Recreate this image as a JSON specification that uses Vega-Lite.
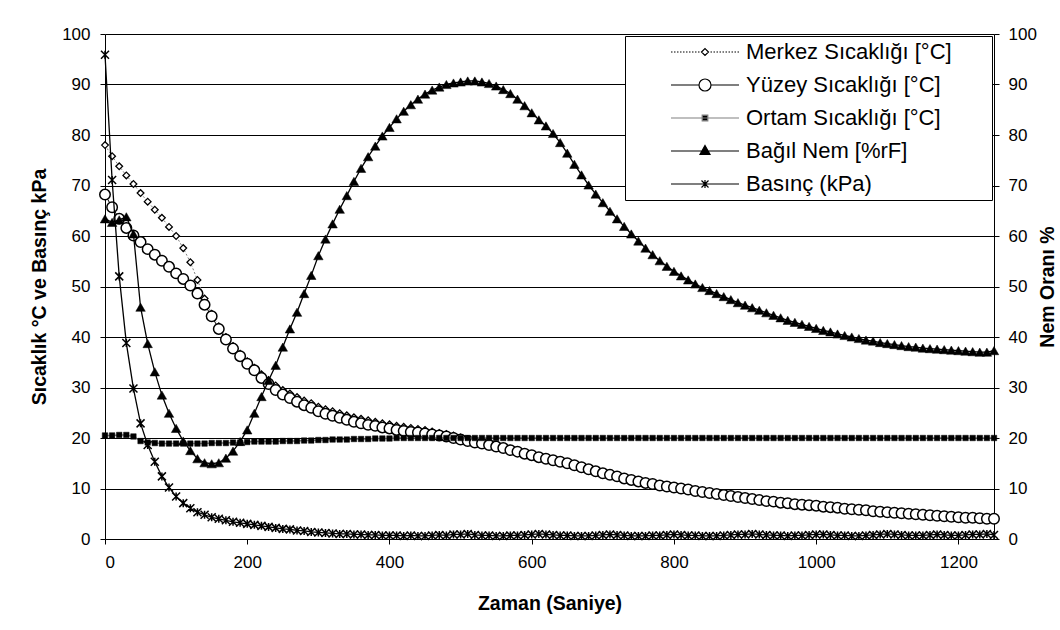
{
  "$schema": "https://vega.github.io/schema/vega-lite/v6.json",
  "width": 889,
  "height": 505,
  "autosize": {"type": "none"},
  "padding": {"left": 105, "top": 34, "right": 66, "bottom": 91},
  "background": "white",
  "config": {
    "font": "Liberation Sans",
    "view": {"stroke": null},
    "axis": {"labelFont": "Liberation Sans", "labelFontSize": 17, "labelColor": "black", "titleFont": "Liberation Sans", "titleFontSize": 19.5, "titleFontWeight": "bold", "titleColor": "black", "domainColor": "black", "domainWidth": 1, "tickColor": "black", "tickWidth": 1, "tickSize": 5, "gridColor": "black", "gridWidth": 1, "gridOpacity": 1},
    "legend": {"orient": "top-right", "offset": 2, "padding": 5, "strokeColor": "black", "fillColor": "white", "labelFont": "Liberation Sans", "labelFontSize": 22, "labelColor": "black", "symbolSize": 400, "symbolStrokeWidth": 1.2, "labelOffset": 30, "rowPadding": 11, "symbolOffset": 64, "labelLimit": 400, "titleOrient": "right", "titlePadding": 35, "titleFontSize": 22}
  },
  "datasets": {
    "merkez": [{"t":0,"v":78.0},{"t":10,"v":75.8},{"t":20,"v":73.8},{"t":30,"v":72.0},{"t":40,"v":70.3},{"t":50,"v":68.5},{"t":60,"v":66.8},{"t":70,"v":65.2},{"t":80,"v":63.6},{"t":90,"v":61.8},{"t":100,"v":60.0},{"t":110,"v":57.6},{"t":120,"v":54.8},{"t":130,"v":51.3},{"t":140,"v":47.6},{"t":150,"v":44.6},{"t":160,"v":42.1},{"t":170,"v":40.0},{"t":180,"v":38.2},{"t":190,"v":36.7},{"t":200,"v":35.2},{"t":210,"v":33.9},{"t":220,"v":32.6},{"t":230,"v":31.5},{"t":240,"v":30.4},{"t":250,"v":29.5},{"t":260,"v":28.8},{"t":270,"v":28.1},{"t":280,"v":27.4},{"t":290,"v":26.9},{"t":300,"v":26.2},{"t":310,"v":25.7},{"t":320,"v":25.3},{"t":330,"v":24.9},{"t":340,"v":24.5},{"t":350,"v":24.1},{"t":360,"v":23.8},{"t":370,"v":23.5},{"t":380,"v":23.2},{"t":390,"v":22.9},{"t":400,"v":22.7},{"t":410,"v":22.4},{"t":420,"v":22.2},{"t":430,"v":22.0},{"t":440,"v":21.8},{"t":450,"v":21.6},{"t":460,"v":21.3},{"t":470,"v":21.0},{"t":480,"v":20.8},{"t":490,"v":20.5},{"t":500,"v":20.1},{"t":510,"v":19.7},{"t":520,"v":19.3},{"t":530,"v":19.1},{"t":540,"v":18.8},{"t":550,"v":18.5},{"t":560,"v":18.2},{"t":570,"v":17.8},{"t":580,"v":17.5},{"t":590,"v":17.1},{"t":600,"v":16.8},{"t":610,"v":16.4},{"t":620,"v":16.1},{"t":630,"v":15.8},{"t":640,"v":15.5},{"t":650,"v":15.2},{"t":660,"v":14.8},{"t":670,"v":14.4},{"t":680,"v":14.0},{"t":690,"v":13.6},{"t":700,"v":13.2},{"t":710,"v":12.9},{"t":720,"v":12.6},{"t":730,"v":12.2},{"t":740,"v":11.9},{"t":750,"v":11.6},{"t":760,"v":11.3},{"t":770,"v":11.1},{"t":780,"v":10.8},{"t":790,"v":10.6},{"t":800,"v":10.4},{"t":810,"v":10.2},{"t":820,"v":10.0},{"t":830,"v":9.7},{"t":840,"v":9.5},{"t":850,"v":9.3},{"t":860,"v":9.1},{"t":870,"v":8.9},{"t":880,"v":8.7},{"t":890,"v":8.5},{"t":900,"v":8.3},{"t":910,"v":8.1},{"t":920,"v":7.9},{"t":930,"v":7.7},{"t":940,"v":7.6},{"t":950,"v":7.4},{"t":960,"v":7.3},{"t":970,"v":7.1},{"t":980,"v":7.0},{"t":990,"v":6.9},{"t":1000,"v":6.8},{"t":1010,"v":6.6},{"t":1020,"v":6.5},{"t":1030,"v":6.4},{"t":1040,"v":6.2},{"t":1050,"v":6.1},{"t":1060,"v":6.0},{"t":1070,"v":5.9},{"t":1080,"v":5.7},{"t":1090,"v":5.6},{"t":1100,"v":5.5},{"t":1110,"v":5.4},{"t":1120,"v":5.3},{"t":1130,"v":5.2},{"t":1140,"v":5.1},{"t":1150,"v":5.0},{"t":1160,"v":4.9},{"t":1170,"v":4.8},{"t":1180,"v":4.7},{"t":1190,"v":4.6},{"t":1200,"v":4.5},{"t":1210,"v":4.4},{"t":1220,"v":4.4},{"t":1230,"v":4.3},{"t":1240,"v":4.2},{"t":1250,"v":4.2}],
    "yuzey": [{"t":0,"v":68.2},{"t":10,"v":65.7},{"t":20,"v":63.4},{"t":30,"v":61.6},{"t":40,"v":60.1},{"t":50,"v":58.8},{"t":60,"v":57.4},{"t":70,"v":56.3},{"t":80,"v":55.1},{"t":90,"v":53.9},{"t":100,"v":52.6},{"t":110,"v":51.5},{"t":120,"v":50.2},{"t":130,"v":48.6},{"t":140,"v":46.4},{"t":150,"v":44.1},{"t":160,"v":41.6},{"t":170,"v":39.5},{"t":180,"v":37.7},{"t":190,"v":36.2},{"t":200,"v":34.7},{"t":210,"v":33.4},{"t":220,"v":31.9},{"t":230,"v":30.7},{"t":240,"v":29.5},{"t":250,"v":28.6},{"t":260,"v":27.9},{"t":270,"v":27.2},{"t":280,"v":26.5},{"t":290,"v":26.0},{"t":300,"v":25.3},{"t":310,"v":24.8},{"t":320,"v":24.4},{"t":330,"v":24.0},{"t":340,"v":23.6},{"t":350,"v":23.2},{"t":360,"v":22.9},{"t":370,"v":22.6},{"t":380,"v":22.4},{"t":390,"v":22.1},{"t":400,"v":21.9},{"t":410,"v":21.6},{"t":420,"v":21.4},{"t":430,"v":21.2},{"t":440,"v":21.1},{"t":450,"v":20.9},{"t":460,"v":20.7},{"t":470,"v":20.5},{"t":480,"v":20.3},{"t":490,"v":20.0},{"t":500,"v":19.7},{"t":510,"v":19.4},{"t":520,"v":19.1},{"t":530,"v":18.9},{"t":540,"v":18.6},{"t":550,"v":18.3},{"t":560,"v":18.0},{"t":570,"v":17.6},{"t":580,"v":17.3},{"t":590,"v":16.9},{"t":600,"v":16.6},{"t":610,"v":16.2},{"t":620,"v":15.9},{"t":630,"v":15.6},{"t":640,"v":15.3},{"t":650,"v":15.0},{"t":660,"v":14.6},{"t":670,"v":14.2},{"t":680,"v":13.8},{"t":690,"v":13.4},{"t":700,"v":13.0},{"t":710,"v":12.7},{"t":720,"v":12.4},{"t":730,"v":12.0},{"t":740,"v":11.7},{"t":750,"v":11.4},{"t":760,"v":11.1},{"t":770,"v":10.9},{"t":780,"v":10.6},{"t":790,"v":10.4},{"t":800,"v":10.2},{"t":810,"v":10.0},{"t":820,"v":9.8},{"t":830,"v":9.5},{"t":840,"v":9.3},{"t":850,"v":9.1},{"t":860,"v":8.9},{"t":870,"v":8.7},{"t":880,"v":8.5},{"t":890,"v":8.3},{"t":900,"v":8.1},{"t":910,"v":7.9},{"t":920,"v":7.7},{"t":930,"v":7.5},{"t":940,"v":7.4},{"t":950,"v":7.2},{"t":960,"v":7.1},{"t":970,"v":6.9},{"t":980,"v":6.8},{"t":990,"v":6.7},{"t":1000,"v":6.6},{"t":1010,"v":6.4},{"t":1020,"v":6.3},{"t":1030,"v":6.2},{"t":1040,"v":6.0},{"t":1050,"v":5.9},{"t":1060,"v":5.8},{"t":1070,"v":5.7},{"t":1080,"v":5.5},{"t":1090,"v":5.4},{"t":1100,"v":5.3},{"t":1110,"v":5.2},{"t":1120,"v":5.1},{"t":1130,"v":5.0},{"t":1140,"v":4.9},{"t":1150,"v":4.8},{"t":1160,"v":4.7},{"t":1170,"v":4.6},{"t":1180,"v":4.5},{"t":1190,"v":4.4},{"t":1200,"v":4.3},{"t":1210,"v":4.2},{"t":1220,"v":4.2},{"t":1230,"v":4.1},{"t":1240,"v":4.0},{"t":1250,"v":4.0}],
    "ortam": [{"t":0,"v":20.5},{"t":10,"v":20.5},{"t":20,"v":20.6},{"t":30,"v":20.6},{"t":40,"v":20.3},{"t":50,"v":19.4},{"t":60,"v":19.1},{"t":70,"v":19.0},{"t":80,"v":18.9},{"t":90,"v":18.9},{"t":100,"v":18.9},{"t":110,"v":18.9},{"t":120,"v":18.9},{"t":130,"v":18.9},{"t":140,"v":18.9},{"t":150,"v":19.0},{"t":160,"v":19.0},{"t":170,"v":19.0},{"t":180,"v":19.1},{"t":190,"v":19.1},{"t":200,"v":19.2},{"t":210,"v":19.3},{"t":220,"v":19.3},{"t":230,"v":19.3},{"t":240,"v":19.3},{"t":250,"v":19.4},{"t":260,"v":19.4},{"t":270,"v":19.4},{"t":280,"v":19.5},{"t":290,"v":19.5},{"t":300,"v":19.6},{"t":310,"v":19.6},{"t":320,"v":19.7},{"t":330,"v":19.7},{"t":340,"v":19.7},{"t":350,"v":19.8},{"t":360,"v":19.8},{"t":370,"v":19.8},{"t":380,"v":19.9},{"t":390,"v":19.9},{"t":400,"v":19.9},{"t":410,"v":20.0},{"t":420,"v":20.0},{"t":430,"v":20.0},{"t":440,"v":20.0},{"t":450,"v":20.0},{"t":460,"v":20.0},{"t":470,"v":20.0},{"t":480,"v":20.0},{"t":490,"v":20.0},{"t":500,"v":20.0},{"t":510,"v":20.0},{"t":520,"v":20.0},{"t":530,"v":20.0},{"t":540,"v":20.0},{"t":550,"v":20.0},{"t":560,"v":20.0},{"t":570,"v":20.0},{"t":580,"v":20.0},{"t":590,"v":20.0},{"t":600,"v":20.0},{"t":610,"v":20.0},{"t":620,"v":20.0},{"t":630,"v":20.0},{"t":640,"v":20.0},{"t":650,"v":20.0},{"t":660,"v":20.0},{"t":670,"v":20.0},{"t":680,"v":20.0},{"t":690,"v":20.0},{"t":700,"v":20.0},{"t":710,"v":20.0},{"t":720,"v":20.0},{"t":730,"v":20.0},{"t":740,"v":20.0},{"t":750,"v":20.0},{"t":760,"v":20.0},{"t":770,"v":20.0},{"t":780,"v":20.0},{"t":790,"v":20.0},{"t":800,"v":20.0},{"t":810,"v":20.0},{"t":820,"v":20.0},{"t":830,"v":20.0},{"t":840,"v":20.0},{"t":850,"v":20.0},{"t":860,"v":20.0},{"t":870,"v":20.0},{"t":880,"v":20.0},{"t":890,"v":20.0},{"t":900,"v":20.0},{"t":910,"v":20.0},{"t":920,"v":20.0},{"t":930,"v":20.0},{"t":940,"v":20.0},{"t":950,"v":20.0},{"t":960,"v":20.0},{"t":970,"v":20.0},{"t":980,"v":20.0},{"t":990,"v":20.0},{"t":1000,"v":20.0},{"t":1010,"v":20.0},{"t":1020,"v":20.0},{"t":1030,"v":20.0},{"t":1040,"v":20.0},{"t":1050,"v":20.0},{"t":1060,"v":20.0},{"t":1070,"v":20.0},{"t":1080,"v":20.0},{"t":1090,"v":20.0},{"t":1100,"v":20.0},{"t":1110,"v":20.0},{"t":1120,"v":20.0},{"t":1130,"v":20.0},{"t":1140,"v":20.0},{"t":1150,"v":20.0},{"t":1160,"v":20.0},{"t":1170,"v":20.0},{"t":1180,"v":20.0},{"t":1190,"v":20.0},{"t":1200,"v":20.0},{"t":1210,"v":20.0},{"t":1220,"v":20.0},{"t":1230,"v":20.0},{"t":1240,"v":20.0},{"t":1250,"v":20.0}],
    "nem": [{"t":0,"v":63.4},{"t":10,"v":62.7},{"t":20,"v":63.2},{"t":30,"v":63.8},{"t":40,"v":60.4},{"t":50,"v":45.9},{"t":60,"v":38.7},{"t":70,"v":33.1},{"t":80,"v":28.5},{"t":90,"v":24.9},{"t":100,"v":21.9},{"t":110,"v":19.4},{"t":120,"v":17.5},{"t":130,"v":15.9},{"t":140,"v":15.1},{"t":150,"v":14.9},{"t":160,"v":15.1},{"t":170,"v":16.0},{"t":180,"v":17.4},{"t":190,"v":19.3},{"t":200,"v":21.6},{"t":210,"v":24.9},{"t":220,"v":28.2},{"t":230,"v":31.4},{"t":240,"v":34.4},{"t":250,"v":38.0},{"t":260,"v":41.6},{"t":270,"v":44.9},{"t":280,"v":48.6},{"t":290,"v":52.2},{"t":300,"v":56.1},{"t":310,"v":59.4},{"t":320,"v":62.4},{"t":330,"v":65.3},{"t":340,"v":68.0},{"t":350,"v":70.8},{"t":360,"v":73.4},{"t":370,"v":75.7},{"t":380,"v":77.8},{"t":390,"v":79.8},{"t":400,"v":81.5},{"t":410,"v":83.2},{"t":420,"v":84.7},{"t":430,"v":86.0},{"t":440,"v":87.1},{"t":450,"v":88.1},{"t":460,"v":88.9},{"t":470,"v":89.5},{"t":480,"v":90.0},{"t":490,"v":90.3},{"t":500,"v":90.5},{"t":510,"v":90.7},{"t":520,"v":90.7},{"t":530,"v":90.5},{"t":540,"v":90.2},{"t":550,"v":89.7},{"t":560,"v":89.0},{"t":570,"v":88.2},{"t":580,"v":87.1},{"t":590,"v":85.8},{"t":600,"v":84.4},{"t":610,"v":83.0},{"t":620,"v":81.8},{"t":630,"v":80.3},{"t":640,"v":78.5},{"t":650,"v":76.4},{"t":660,"v":74.2},{"t":670,"v":72.1},{"t":680,"v":70.1},{"t":690,"v":68.3},{"t":700,"v":66.6},{"t":710,"v":64.9},{"t":720,"v":63.4},{"t":730,"v":61.9},{"t":740,"v":60.4},{"t":750,"v":59.0},{"t":760,"v":57.6},{"t":770,"v":56.3},{"t":780,"v":55.1},{"t":790,"v":54.0},{"t":800,"v":53.0},{"t":810,"v":52.1},{"t":820,"v":51.3},{"t":830,"v":50.5},{"t":840,"v":49.8},{"t":850,"v":49.2},{"t":860,"v":48.6},{"t":870,"v":48.0},{"t":880,"v":47.4},{"t":890,"v":46.8},{"t":900,"v":46.3},{"t":910,"v":45.8},{"t":920,"v":45.3},{"t":930,"v":44.8},{"t":940,"v":44.3},{"t":950,"v":43.8},{"t":960,"v":43.3},{"t":970,"v":42.9},{"t":980,"v":42.5},{"t":990,"v":42.1},{"t":1000,"v":41.7},{"t":1010,"v":41.3},{"t":1020,"v":41.0},{"t":1030,"v":40.6},{"t":1040,"v":40.3},{"t":1050,"v":40.0},{"t":1060,"v":39.7},{"t":1070,"v":39.4},{"t":1080,"v":39.2},{"t":1090,"v":38.9},{"t":1100,"v":38.7},{"t":1110,"v":38.5},{"t":1120,"v":38.3},{"t":1130,"v":38.1},{"t":1140,"v":38.0},{"t":1150,"v":37.8},{"t":1160,"v":37.7},{"t":1170,"v":37.6},{"t":1180,"v":37.5},{"t":1190,"v":37.4},{"t":1200,"v":37.3},{"t":1210,"v":37.2},{"t":1220,"v":37.1},{"t":1230,"v":37.0},{"t":1240,"v":37.0},{"t":1250,"v":37.3}],
    "basinc": [{"t":0,"v":95.9},{"t":10,"v":71.1},{"t":20,"v":52.0},{"t":30,"v":38.8},{"t":40,"v":29.8},{"t":50,"v":22.9},{"t":60,"v":18.6},{"t":70,"v":15.3},{"t":80,"v":12.4},{"t":90,"v":10.2},{"t":100,"v":8.4},{"t":110,"v":7.1},{"t":120,"v":6.1},{"t":130,"v":5.3},{"t":140,"v":4.8},{"t":150,"v":4.3},{"t":160,"v":4.0},{"t":170,"v":3.7},{"t":180,"v":3.4},{"t":190,"v":3.2},{"t":200,"v":3.0},{"t":210,"v":2.8},{"t":220,"v":2.6},{"t":230,"v":2.4},{"t":240,"v":2.2},{"t":250,"v":2.0},{"t":260,"v":1.9},{"t":270,"v":1.7},{"t":280,"v":1.6},{"t":290,"v":1.4},{"t":300,"v":1.3},{"t":310,"v":1.2},{"t":320,"v":1.1},{"t":330,"v":1.0},{"t":340,"v":1.0},{"t":350,"v":0.9},{"t":360,"v":0.9},{"t":370,"v":0.8},{"t":380,"v":0.8},{"t":390,"v":0.7},{"t":400,"v":0.7},{"t":410,"v":0.7},{"t":420,"v":0.6},{"t":430,"v":0.7},{"t":440,"v":0.6},{"t":450,"v":0.6},{"t":460,"v":0.7},{"t":470,"v":0.8},{"t":480,"v":0.7},{"t":490,"v":0.9},{"t":500,"v":0.9},{"t":510,"v":1.0},{"t":520,"v":0.8},{"t":530,"v":0.7},{"t":540,"v":0.7},{"t":550,"v":0.6},{"t":560,"v":0.6},{"t":570,"v":0.7},{"t":580,"v":0.7},{"t":590,"v":0.8},{"t":600,"v":0.9},{"t":610,"v":1.0},{"t":620,"v":0.9},{"t":630,"v":0.8},{"t":640,"v":0.7},{"t":650,"v":0.7},{"t":660,"v":0.6},{"t":670,"v":0.6},{"t":680,"v":0.6},{"t":690,"v":0.7},{"t":700,"v":0.8},{"t":710,"v":0.9},{"t":720,"v":0.8},{"t":730,"v":0.7},{"t":740,"v":0.6},{"t":750,"v":0.6},{"t":760,"v":0.6},{"t":770,"v":0.7},{"t":780,"v":0.7},{"t":790,"v":0.8},{"t":800,"v":0.9},{"t":810,"v":0.8},{"t":820,"v":0.7},{"t":830,"v":0.7},{"t":840,"v":0.6},{"t":850,"v":0.6},{"t":860,"v":0.6},{"t":870,"v":0.7},{"t":880,"v":0.8},{"t":890,"v":0.9},{"t":900,"v":0.9},{"t":910,"v":1.0},{"t":920,"v":0.9},{"t":930,"v":0.8},{"t":940,"v":0.7},{"t":950,"v":0.7},{"t":960,"v":0.6},{"t":970,"v":0.7},{"t":980,"v":0.7},{"t":990,"v":0.8},{"t":1000,"v":0.9},{"t":1010,"v":0.9},{"t":1020,"v":0.8},{"t":1030,"v":0.7},{"t":1040,"v":0.7},{"t":1050,"v":0.6},{"t":1060,"v":0.6},{"t":1070,"v":0.7},{"t":1080,"v":0.8},{"t":1090,"v":0.9},{"t":1100,"v":1.0},{"t":1110,"v":0.9},{"t":1120,"v":0.8},{"t":1130,"v":0.7},{"t":1140,"v":0.7},{"t":1150,"v":0.7},{"t":1160,"v":0.8},{"t":1170,"v":0.9},{"t":1180,"v":0.8},{"t":1190,"v":0.7},{"t":1200,"v":0.7},{"t":1210,"v":0.8},{"t":1220,"v":0.9},{"t":1230,"v":0.9},{"t":1240,"v":1.0},{"t":1250,"v":0.8}]
  },
  "layer": [
    {
      "layer": [
        {"data": {"name": "merkez"}, "mark": {"type": "line", "stroke": "#808080", "strokeWidth": 1, "strokeDash": [2, 2]},
         "encoding": {
           "x": {"field": "t", "type": "quantitative", "scale": {"domain": [0, 1250], "nice": false, "zero": false}, "axis": {"values": [0, 200, 400, 600, 800, 1000, 1200], "format": "d", "title": "Zaman (Saniye)", "grid": false, "labelPadding": 10, "titlePadding": 24}},
           "y": {"field": "v", "type": "quantitative", "scale": {"domain": [0, 100], "nice": false}, "axis": {"values": [0, 10, 20, 30, 40, 50, 60, 70, 80, 90, 100], "format": "d", "title": "Sıcaklık °C ve Basınç kPa", "grid": true, "labelPadding": 10, "titlePadding": 12}}}},
        {"data": {"name": "merkez"}, "mark": {"type": "point", "shape": "diamond", "filled": true, "fill": "white", "stroke": "black", "strokeWidth": 1.3, "size": 45, "opacity": 1},
         "encoding": {"x": {"field": "t", "type": "quantitative"}, "y": {"field": "v", "type": "quantitative"}}},
        {"data": {"name": "yuzey"}, "mark": {"type": "line", "stroke": "black", "strokeWidth": 1},
         "encoding": {"x": {"field": "t", "type": "quantitative"}, "y": {"field": "v", "type": "quantitative"}}},
        {"data": {"name": "yuzey"}, "mark": {"type": "point", "shape": "circle", "filled": true, "fill": "white", "stroke": "black", "strokeWidth": 1.5, "size": 110, "opacity": 1},
         "encoding": {"x": {"field": "t", "type": "quantitative"}, "y": {"field": "v", "type": "quantitative"}}},
        {"data": {"name": "ortam"}, "mark": {"type": "line", "stroke": "#808080", "strokeWidth": 1.5},
         "encoding": {"x": {"field": "t", "type": "quantitative"}, "y": {"field": "v", "type": "quantitative"}}},
        {"data": {"name": "ortam"}, "mark": {"type": "point", "shape": "square", "filled": true, "fill": "black", "stroke": "black", "strokeWidth": 0.5, "size": 30, "opacity": 1},
         "encoding": {"x": {"field": "t", "type": "quantitative"}, "y": {"field": "v", "type": "quantitative"}}}
      ]
    },
    {
      "layer": [
        {"data": {"name": "nem"}, "mark": {"type": "line", "stroke": "black", "strokeWidth": 1.3},
         "encoding": {"x": {"field": "t", "type": "quantitative"},
           "y": {"field": "v", "type": "quantitative", "scale": {"domain": [0, 100], "nice": false}, "axis": {"orient": "right", "values": [0, 10, 20, 30, 40, 50, 60, 70, 80, 90, 100], "format": "d", "title": "Nem Oranı %", "titleAngle": 270, "grid": false, "labelPadding": 9, "titlePadding": 21}}}},
        {"data": {"name": "nem"}, "mark": {"type": "point", "shape": "triangle-up", "filled": true, "fill": "black", "stroke": "black", "strokeWidth": 0.5, "size": 90, "opacity": 1},
         "encoding": {"x": {"field": "t", "type": "quantitative"}, "y": {"field": "v", "type": "quantitative"}}}
      ]
    },
    {
      "layer": [
        {"data": {"name": "basinc"}, "mark": {"type": "line", "stroke": "black", "strokeWidth": 1.3},
         "encoding": {"x": {"field": "t", "type": "quantitative"},
           "y": {"field": "v", "type": "quantitative", "scale": {"domain": [0, 100], "nice": false}, "axis": null}}},
        {"data": {"name": "basinc"}, "mark": {"type": "point", "shape": "M-1,-1L1,1M-1,1L1,-1M0,-1L0,1", "filled": false, "stroke": "black", "strokeWidth": 1.5, "size": 64, "opacity": 1},
         "encoding": {"x": {"field": "t", "type": "quantitative"}, "y": {"field": "v", "type": "quantitative", "axis": null}}}
      ]
    },
    {
      "data": {"values": [{"s": "Merkez Sıcaklığı [°C]"}, {"s": "Yüzey Sıcaklığı [°C]"}, {"s": "Ortam Sıcaklığı [°C]"}, {"s": "Bağıl Nem [%rF]"}, {"s": "Basınç (kPa)"}]},
      "transform": [{"filter": "false"}],
      "mark": {"type": "point", "filled": true, "opacity": 1},
      "encoding": {
        "shape": {"field": "s", "type": "nominal",
          "scale": {"domain": ["Merkez Sıcaklığı [°C]", "Yüzey Sıcaklığı [°C]", "Ortam Sıcaklığı [°C]", "Bağıl Nem [%rF]", "Basınç (kPa)"],
            "range": [
              "M-3.4,0h0.15M-3.1,0h0.15M-2.8,0h0.15M-2.5,0h0.15M-2.2,0h0.15M-1.9,0h0.15M-1.6,0h0.15M-1.3,0h0.15M-1.0,0h0.15M-0.7,0h0.15M0.55,0h0.15M0.85,0h0.15M1.15,0h0.15M1.45,0h0.15M1.75,0h0.15M2.05,0h0.15M2.35,0h0.15M2.65,0h0.15M2.95,0h0.15M3.25,0h0.15M-0.35,0L0,-0.35L0.35,0L0,0.35Z",
              "M-3.4,0L-0.6,0M0.6,0L3.4,0M-0.6,0A0.6,0.6 0 1,0 0.6,0A0.6,0.6 0 1,0 -0.6,0Z",
              "M-3.4,0L3.4,0M-0.28,-0.28L0.28,-0.28L0.28,0.28L-0.28,0.28Z",
              "M-3.4,0L3.4,0M0,-0.55L0.5,0.35L-0.5,0.35Z",
              "M-3.4,0L3.4,0M-0.35,-0.35L0.35,0.35M-0.35,0.35L0.35,-0.35M0,-0.4L0,0.4"
            ]},
          "legend": {"title": "\u00a0"}},
        "fill": {"field": "s", "type": "nominal",
          "scale": {"domain": ["Merkez Sıcaklığı [°C]", "Yüzey Sıcaklığı [°C]", "Ortam Sıcaklığı [°C]", "Bağıl Nem [%rF]", "Basınç (kPa)"], "range": ["white", "white", "black", "black", "black"]},
          "legend": {"title": "\u00a0"}},
        "stroke": {"field": "s", "type": "nominal",
          "scale": {"domain": ["Merkez Sıcaklığı [°C]", "Yüzey Sıcaklığı [°C]", "Ortam Sıcaklığı [°C]", "Bağıl Nem [%rF]", "Basınç (kPa)"], "range": ["black", "black", "#808080", "black", "black"]},
          "legend": {"title": "\u00a0"}}
      }
    }
  ],
  "resolve": {"scale": {"y": "independent"}}
}
